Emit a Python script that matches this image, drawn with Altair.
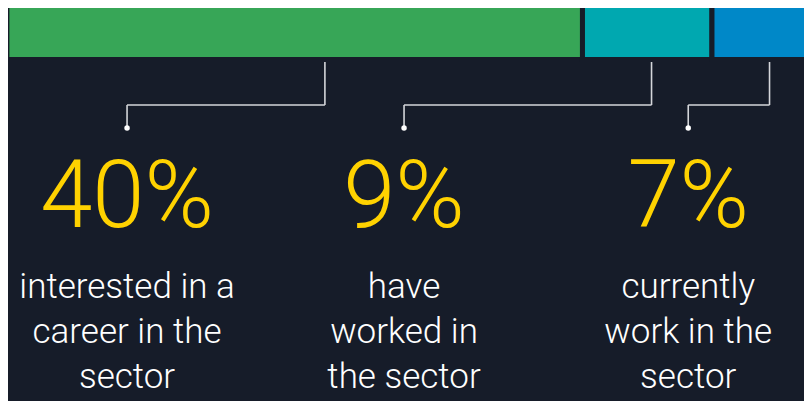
import altair as alt
import pandas as pd

# ---- data ----
groups = ["interested", "worked", "current"]
shares = [40, 9, 7]
pct_labels = ["40%", "9%", "7%"]
descriptions = [
    ["interested in a", "career in the", "sector"],
    ["have", "worked in", "the sector"],
    ["currently", "work in the", "sector"],
]
colors = ["#37a657", "#00a8b0", "#0088c8"]
# annotation anchors, in the same units as the bar (percentage points)
connector_at = [22.1, 44.8, 53.0]
label_at = [8.35, 27.6, 47.35]

BG = "#161c29"
W, H = 796, 393

starts = [sum(shares[:i]) for i in range(len(shares))]
ends = [s + v for s, v in zip(starts, shares)]
df = pd.DataFrame({
    "group": groups,
    "share": shares,
    "start": starts,
    "end": ends,
    "pct": pct_labels,
    "desc": descriptions,
    "conn": connector_at,
    "lab": label_at,
})

xscale = alt.Scale(domain=[0, sum(shares)], range=[-1.1, 804.7], nice=False, zero=True)
xenc = lambda f: alt.X(f"{f}:Q", scale=xscale, axis=None)
color = alt.Color("group:N", scale=alt.Scale(domain=groups, range=colors), legend=None)

base = alt.Chart(df)

bar = base.mark_bar(stroke=BG, strokeWidth=5, cornerRadius=0).encode(
    x=xenc("start"), x2="end", y=alt.value(-6.5), y2=alt.value(51.5), color=color
)

line_style = dict(color="#d4d6da", strokeWidth=1.6)
v1 = base.mark_rule(**line_style).encode(x=xenc("conn"), y=alt.value(54), y2=alt.value(97))
h = base.mark_rule(**line_style).encode(x=xenc("lab"), x2="conn", y=alt.value(97))
v2 = base.mark_rule(**line_style).encode(x=xenc("lab"), y=alt.value(97), y2=alt.value(120))
dot = base.mark_circle(color="#ffffff", opacity=1, size=30).encode(x=xenc("lab"), y=alt.value(120))

pct = base.mark_text(
    font="Roboto", fontWeight=300, fontSize=94, color="#ffd200",
    align="center", baseline="alphabetic"
).encode(x=xenc("lab"), y=alt.value(219), text="pct:N")

desc = base.mark_text(
    font="Roboto", fontWeight=300, fontSize=35, color="#ffffff",
    align="center", baseline="alphabetic", lineHeight=45
).encode(x=xenc("lab"), y=alt.value(290), text="desc")

chart = alt.layer(bar, v1, h, v2, dot, pct, desc).properties(
    width=W, height=H, background=BG, padding=0,
    autosize=alt.AutoSizeParams(type="none"),
).configure_view(stroke=None, fill=BG)

chart.save("out.html", embed_options={"renderer": "svg", "actions": False})
